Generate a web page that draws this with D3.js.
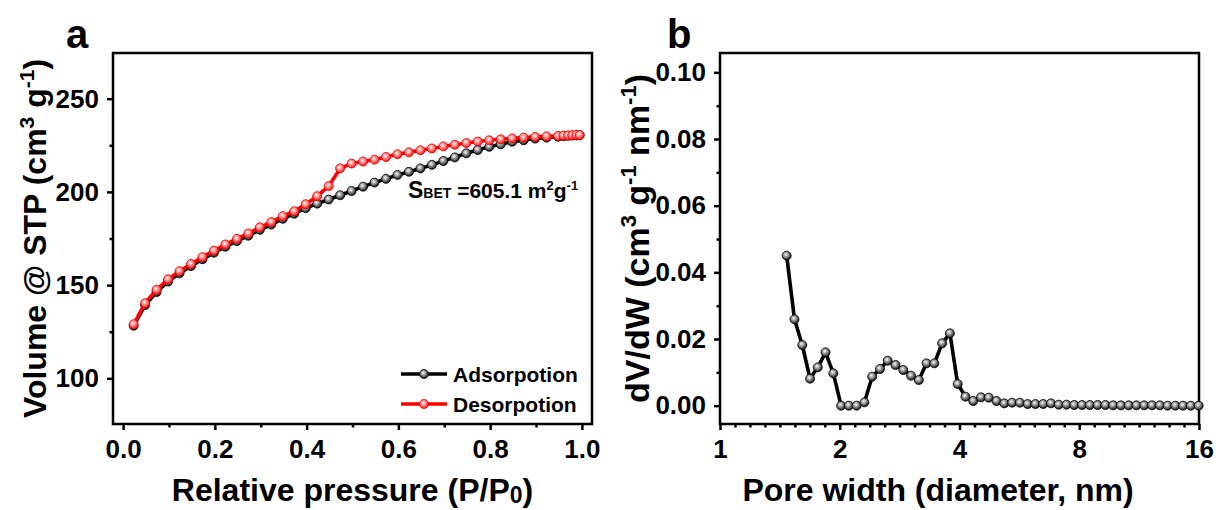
<!DOCTYPE html>
<html><head><meta charset="utf-8">
<script src="https://cdn.jsdelivr.net/npm/d3@7"></script>
<style>
body{margin:0;background:#fff;}
svg text{font-family:"Liberation Sans",Arial,sans-serif;font-weight:bold;fill:#000;}
</style></head><body>
<svg id="chart" width="1218" height="510"></svg>
<script>
// ---------- Panel a data ----------
const pressure = [0.023,0.048,0.073,0.098,0.123,0.148,0.173,0.198,0.223,0.248,0.273,0.298,0.323,0.348,0.373,0.398,0.423,0.448,0.473,0.498,0.523,0.548,0.573,0.598,0.623,0.648,0.673,0.698,0.723,0.748,0.773,0.798,0.823,0.848,0.873,0.898,0.923,0.948,0.960,0.970,0.979,0.988,0.995];
const adsorption = [128.2,139.3,146.3,151.9,156.3,160.2,163.9,167.4,170.6,173.6,176.5,179.7,182.5,185.6,188.3,191.3,193.7,195.9,198.2,200.5,202.8,205.0,207.0,209.1,210.8,212.6,214.5,216.6,218.5,220.7,222.5,224.2,225.5,226.9,227.7,228.6,229.1,229.6,229.9,230.1,230.2,230.3,230.4];
const desorption = [129.0,140.3,147.5,153.1,157.5,161.3,165.0,168.5,171.8,174.8,177.7,181.0,183.8,187.0,189.6,193.4,197.7,203.1,212.6,215.2,216.3,217.3,218.7,220.2,221.2,222.3,223.3,224.4,225.3,226.2,227.0,227.7,228.2,228.7,229.1,229.5,229.8,230.0,230.2,230.3,230.4,230.5,230.5];
const seriesNamesA = ["Adsorpotion","Desorpotion"];
const xTicksA = [0,0.2,0.4,0.6,0.8,1.0];
const xMinorA = [0.1,0.3,0.5,0.7,0.9];
const yTicksA = [100,150,200,250];
const yMinorA = [125,175,225];

// ---------- Panel b data ----------
const poreWidth = [1.471,1.539,1.610,1.684,1.761,1.842,1.927,2.016,2.108,2.205,2.307,2.413,2.524,2.640,2.762,2.889,3.022,3.161,3.306,3.458,3.617,3.784,3.958,4.140,4.331,4.530,4.738,4.956,5.184,5.423,5.672,5.933,6.206,6.492,6.791,7.103,7.430,7.772,8.130,8.504,8.895,9.305,9.733,10.18,10.65,11.14,11.65,12.19,12.75,13.34,13.95,14.59,15.26,15.97];
const dVdW = [0.0450,0.0259,0.0182,0.0081,0.0115,0.0160,0.0097,0.0000,0.0000,0.0000,0.0010,0.0087,0.0110,0.0135,0.0122,0.0107,0.0090,0.0077,0.0127,0.0127,0.0187,0.0217,0.0065,0.0027,0.0014,0.0025,0.0024,0.0014,0.0007,0.0009,0.0009,0.0005,0.0005,0.0005,0.0007,0.0003,0.0003,0.0002,0.0002,0.0002,0.0002,0.0002,0.0001,0.0001,0.0001,0.0001,0.0001,0.0001,0.0001,0.0000,0.0000,0.0000,0.0000,0.0000];
const xTicksB = [1,2,4,8,16];
const xMinorB = [1.0905,1.1892,1.2968,1.4142,1.5422,1.6818,1.8340,2.181,2.3784,2.5937,2.8284,3.0844,3.3636,3.6680,4.362,4.7568,5.1874,5.6569,6.1688,6.7272,7.3360,8.724,9.5137,10.375,11.314,12.338,13.454,14.672];
const yTicksB = [0,0.02,0.04,0.06,0.08,0.10];
const yMinorB = [0.01,0.03,0.05,0.07,0.09];

const svg = d3.select("#chart");
const defs = svg.append("defs");
function grad(id, hi, base){
  const g = defs.append("radialGradient").attr("id",id).attr("cx","42%").attr("cy","38%").attr("r","62%");
  g.append("stop").attr("offset","0%").attr("stop-color","#ffffff");
  g.append("stop").attr("offset","30%").attr("stop-color",hi);
  g.append("stop").attr("offset","100%").attr("stop-color",base);
}
grad("gBlack","#b5b5b5","#111111");
grad("gRed","#ffb0b0","#ff1010");

const TICK = 6, MINOR = 3.5, SW = 2.5;

function styleAxis(g){
  g.select(".domain").remove();
  g.selectAll(".tick line").attr("stroke","#000").attr("stroke-width",SW);
  g.selectAll(".tick text").attr("font-size",26).attr("font-family",'"Liberation Sans",Arial,sans-serif').attr("font-weight","bold");
}

function panel(cfg){
  const {x0,x1,y0,y1,xs,ys} = cfg;
  const g = svg.append("g");
  const bx = g.append("g").attr("transform",`translate(0,${y1})`)
    .call(d3.axisBottom(xs).tickValues(cfg.xTicks).tickSize(TICK).tickPadding(10).tickFormat(cfg.xFmt));
  styleAxis(bx);
  const bxm = g.append("g").attr("transform",`translate(0,${y1})`)
    .call(d3.axisBottom(xs).tickValues(cfg.xMinor).tickSize(MINOR).tickFormat(""));
  styleAxis(bxm);
  const ly = g.append("g").attr("transform",`translate(${x0},0)`)
    .call(d3.axisLeft(ys).tickValues(cfg.yTicks).tickSize(TICK).tickPadding(8).tickFormat(cfg.yFmt));
  styleAxis(ly);
  const lym = g.append("g").attr("transform",`translate(${x0},0)`)
    .call(d3.axisLeft(ys).tickValues(cfg.yMinor).tickSize(MINOR).tickFormat(""));
  styleAxis(lym);
  g.append("rect").attr("x",x0).attr("y",y0).attr("width",x1-x0).attr("height",y1-y0)
    .attr("fill","none").attr("stroke","#000").attr("stroke-width",SW);
  return g;
}

function series(g, xs, ys, xv, yv, color, fillId, stroke){
  const pts = xv.map((d,i)=>[d,yv[i]]);
  g.append("path").datum(pts)
    .attr("d", d3.line().x(d=>xs(d[0])).y(d=>ys(d[1])))
    .attr("fill","none").attr("stroke",color).attr("stroke-width",3.6).attr("stroke-linejoin","round");
  g.selectAll(null).data(pts).enter().append("circle")
    .attr("cx",d=>xs(d[0])).attr("cy",d=>ys(d[1])).attr("r",4.5)
    .attr("fill",`url(#${fillId})`).attr("stroke",stroke).attr("stroke-width",0.8);
}

// ---------- Panel a ----------
const A = {x0:113,x1:592,y0:53,y1:424};
A.xs = d3.scaleLinear().domain([-0.022,1.022]).range([A.x0,A.x1]);
A.ys = d3.scaleLinear().domain([75.5,274.5]).range([A.y1,A.y0]);
A.xTicks = xTicksA; A.xMinor = xMinorA; A.yTicks = yTicksA; A.yMinor = yMinorA;
A.xFmt = d3.format(".1f"); A.yFmt = d3.format("d");
const ga = panel(A);
series(ga, A.xs, A.ys, pressure, adsorption, "#000", "gBlack", "#000");
series(ga, A.xs, A.ys, pressure, desorption, "#ff0000", "gRed", "#e00000");

// legend a
const legColors = [["#000","gBlack","#000"],["#ff0000","gRed","#e00000"]];
seriesNamesA.forEach((name,i)=>{
  const y = 374 + i*30;
  ga.append("line").attr("x1",401).attr("x2",447).attr("y1",y).attr("y2",y)
    .attr("stroke",legColors[i][0]).attr("stroke-width",3.6);
  ga.append("circle").attr("cx",424).attr("cy",y).attr("r",4.5)
    .attr("fill",`url(#${legColors[i][1]})`).attr("stroke",legColors[i][2]).attr("stroke-width",0.8);
  ga.append("text").attr("x",453).attr("y",y+7.5).attr("font-size",21).text(name);
});

// S_BET annotation
const sb = ga.append("text").attr("x",408).attr("y",198).attr("font-size",21);
sb.append("tspan").attr("font-size",23).text("S");
sb.append("tspan").attr("font-size",14).text("BET");
sb.append("tspan").text(" =605.1 m");
sb.append("tspan").attr("font-size",13).attr("dy",-8).text("2");
sb.append("tspan").attr("dy",8).text("g");
sb.append("tspan").attr("font-size",13).attr("dy",-8).text("-1");

// titles a
ga.append("text").attr("x",66).attr("y",48).attr("font-size",40).text("a");
const xa = ga.append("text").attr("x",(A.x0+A.x1)/2).attr("y",501).attr("text-anchor","middle").attr("font-size",32);
xa.append("tspan").text("Relative pressure (P/P");
xa.append("tspan").attr("font-size",23).attr("dy",2).text("0");
xa.append("tspan").attr("dy",-2).text(")");
const ya = ga.append("text").attr("transform",`translate(46,${(A.y0+A.y1)/2}) rotate(-90)`).attr("text-anchor","middle").attr("font-size",32);
ya.append("tspan").text("Volume @ STP (cm");
ya.append("tspan").attr("font-size",21).attr("dy",-12).text("3");
ya.append("tspan").attr("dy",12).text(" g");
ya.append("tspan").attr("font-size",21).attr("dy",-12).text("-1");
ya.append("tspan").attr("dy",12).text(")");

// ---------- Panel b ----------
const B = {x0:720,x1:1199,y0:53,y1:424};
B.xs = d3.scaleLog().base(2).domain([1,16]).range([B.x0,B.x1]);
B.ys = d3.scaleLinear().domain([-0.0055,0.1058]).range([B.y1,B.y0]);
B.xTicks = xTicksB; B.xMinor = xMinorB; B.yTicks = yTicksB; B.yMinor = yMinorB;
B.xFmt = d3.format("d"); B.yFmt = d3.format(".2f");
const gb = panel(B);
series(gb, B.xs, B.ys, poreWidth, dVdW, "#000", "gBlack", "#000");

gb.append("text").attr("x",667).attr("y",48).attr("font-size",40).text("b");
gb.append("text").attr("x",938).attr("y",501).attr("text-anchor","middle").attr("font-size",32).text("Pore width (diameter, nm)");
const yb = gb.append("text").attr("transform",`translate(649,${(B.y0+B.y1)/2}) rotate(-90)`).attr("text-anchor","middle").attr("font-size",34);
yb.append("tspan").text("dV/dW (cm");
yb.append("tspan").attr("font-size",22).attr("dy",-13).text("3");
yb.append("tspan").attr("dy",13).text(" g");
yb.append("tspan").attr("font-size",22).attr("dy",-13).text("-1");
yb.append("tspan").attr("dy",13).text(" nm");
yb.append("tspan").attr("font-size",22).attr("dy",-13).text("-1");
yb.append("tspan").attr("dy",13).text(")");
</script>
</body></html>
